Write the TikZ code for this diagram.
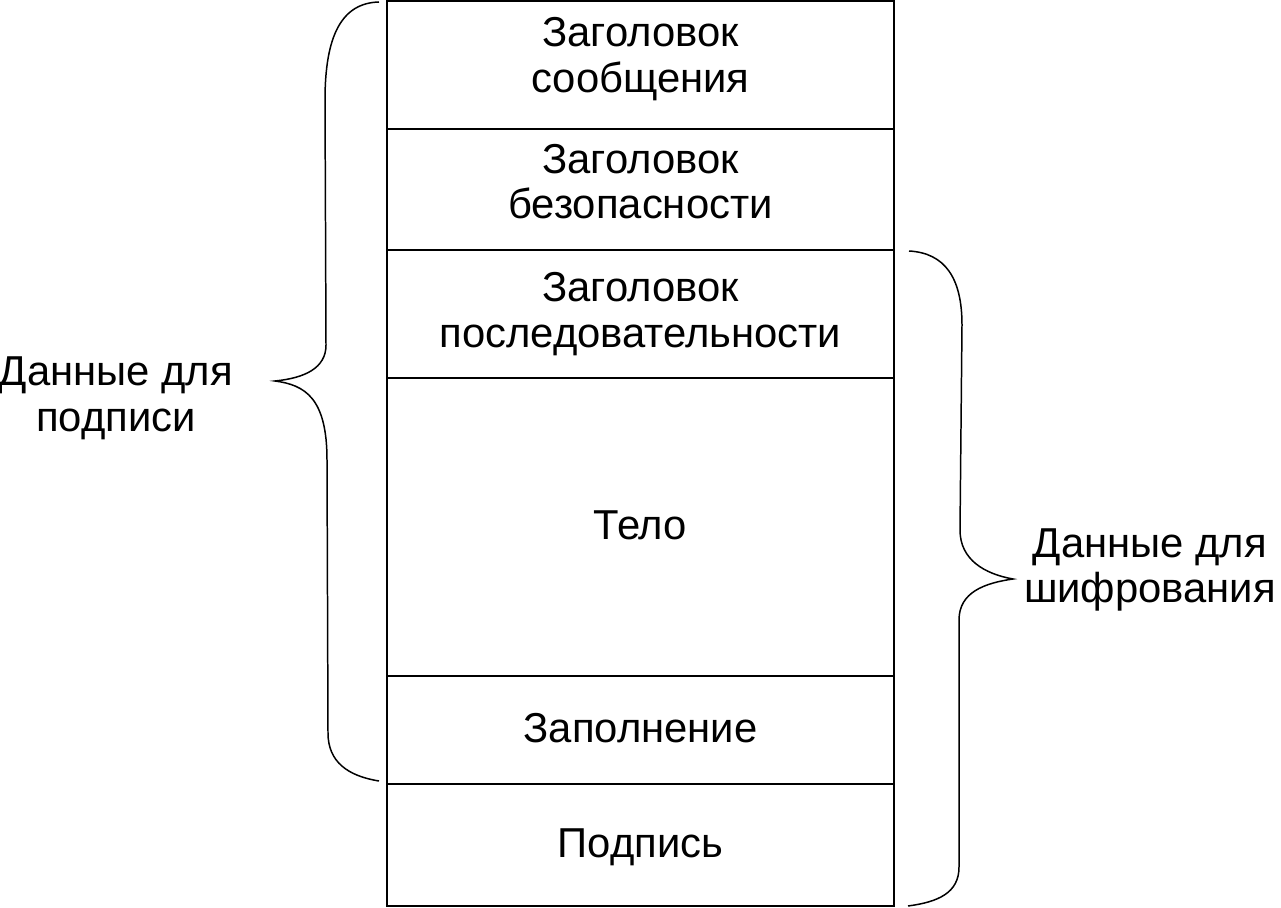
\documentclass[tikz,border=0pt]{standalone}
\usepackage{fontspec}
\setmainfont{Liberation Sans}
\usetikzlibrary{positioning}
\tikzset{
  part/.style={draw=black, line width=1.1pt, minimum width=10.14cm, inner sep=0pt, outer sep=0pt},
  txt/.style={align=center, font=\fontsize{23.8}{26}\selectfont},
  brace/.style={draw=black, line width=0.85pt}
}

\begin{document}
\begin{tikzpicture}[x=0.02cm, y=-0.02cm]
  \useasboundingbox (0,0) rectangle (1281,908);

  \node[part, minimum height=2.56cm, anchor=north, label={[txt,yshift=0.12cm]center:{Заголовок\\сообщения}}] (msg) at (640.5,1) {};
  \node[part, minimum height=2.42cm, below=0pt of msg, label={[txt,yshift=0.16cm]center:{Заголовок\\безопасности}}] (sec) {};
  \node[part, minimum height=2.56cm, below=0pt of sec, label={[txt]center:{Заголовок\\последовательности}}] (seq) {};
  \node[part, minimum height=5.96cm, below=0pt of seq, label={[txt,yshift=0.03cm]center:Тело}] (body) {};
  \node[part, minimum height=2.16cm, below=0pt of body, label={[txt,yshift=0.04cm]center:Заполнение}] (pad) {};
  \node[part, minimum height=2.44cm, below=0pt of pad, label={[txt,yshift=-0.05cm]center:Подпись}] (sig) {};

  \node[txt] (signdata) at (116,398) {Данные для\\подписи};
  \node[txt] (encdata) at (1150,570) {Данные для\\шифрования};

  % braces
  \draw[brace] (379,2) .. controls (342,3) and (325,35) .. (325,100) -- (326,345)
    .. controls (326,368) and (305,378) .. (275,381)
    .. controls (305,385) and (327,398) .. (327,460) -- (328,733)
    .. controls (328,762) and (348,776) .. (379,781);
  \draw[brace] (909,251) .. controls (945,253) and (962,278) .. (962,325) -- (960,530)
    .. controls (960,560) and (985,574) .. (1013,579)
    .. controls (985,583) and (959,592) .. (959,620) -- (959,867)
    .. controls (959,893) and (938,902) .. (908,906);
\end{tikzpicture}
\end{document}
